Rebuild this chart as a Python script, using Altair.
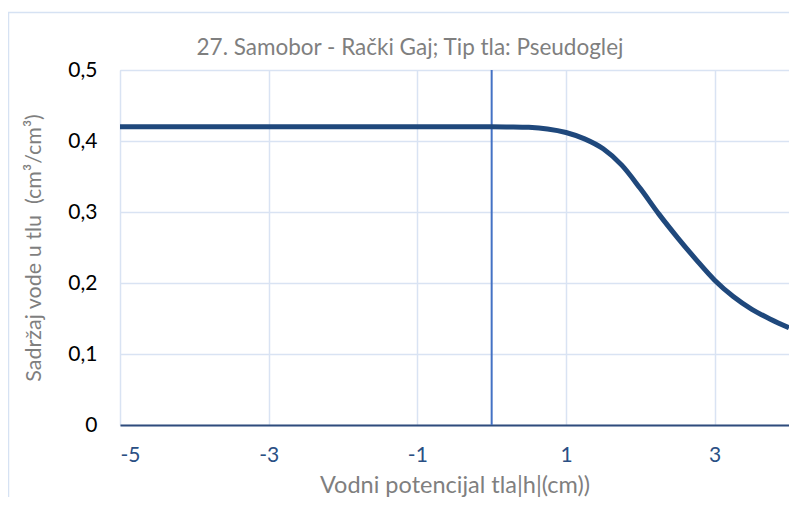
import altair as alt
import pandas as pd

# Data
x_vals = [-5, -4, -3, -2, -1, 0, 0.25, 0.5, 0.75, 1.0, 1.25, 1.5, 1.75, 2.0,
          2.25, 2.5, 2.75, 3.0, 3.25, 3.5, 3.75, 4.0]
theta_vals = [0.42, 0.42, 0.42, 0.42, 0.42, 0.42, 0.4198, 0.4192, 0.417, 0.412,
              0.403, 0.389, 0.366, 0.333, 0.297, 0.264, 0.233, 0.204, 0.181,
              0.163, 0.149, 0.137]
x_ticks = [-5, -3, -1, 1, 3]
y_ticks = [0, 0.1, 0.2, 0.3, 0.4, 0.5]
title_text = "27. Samobor - Rački Gaj; Tip tla: Pseudoglej"
x_title = "Vodni potencijal tla|h|(cm))"
y_title = "Sadržaj vode u tlu\u00a0 (cm³/cm³)"

FONT = "Lato"
GRID = "#D9E3F3"

df = pd.DataFrame({"x": x_vals, "theta": theta_vals})

xscale = alt.Scale(domain=[-5, 4], nice=False, zero=False)
yscale = alt.Scale(domain=[0, 0.5], nice=False)

line = alt.Chart(df).mark_line(
    color="#1F487C", strokeWidth=5, interpolate="monotone", clip=True
).encode(
    x=alt.X("x:Q", scale=xscale,
            axis=alt.Axis(values=x_ticks, title=x_title,
                          labelExpr="datum.value + ''",
                          labelColor="#2A4F84", labelFontSize=21, labelFont=FONT,
                          labelPadding=19, ticks=False,
                          domainColor="#2F4C7C", domainWidth=2,
                          gridColor=GRID, gridWidth=1.5,
                          titleFont=FONT, titleFontSize=23.5, titleFontWeight="normal",
                          titleColor="#7F7F7F", titlePadding=8)),
    y=alt.Y("theta:Q", scale=yscale,
            axis=alt.Axis(values=y_ticks, title=y_title,
                          labelExpr="replace(format(datum.value, '.1~f'), '.', ',')",
                          labelColor="#000000", labelFontSize=21, labelFont=FONT,
                          labelPadding=23, ticks=False, domain=False,
                          gridColor=GRID, gridWidth=1.5,
                          titleFont=FONT, titleFontSize=21.5, titleFontWeight="normal",
                          titleColor="#7F7F7F", titlePadding=22)),
)

vline = alt.Chart(pd.DataFrame({"x": [0]})).mark_rule(
    color="#4472C4", strokeWidth=2
).encode(x=alt.X("x:Q", scale=xscale), y=alt.value(0), y2=alt.value(355))

title = alt.Chart(pd.DataFrame({"t": [title_text]})).mark_text(
    font=FONT, fontSize=22.5, color="#7F7F7F", baseline="alphabetic", align="center"
).encode(text="t:N", x=alt.value(290), y=alt.value(-15))

border = alt.Chart(pd.DataFrame({"a": [1]})).mark_rect(
    fillOpacity=0, stroke="#D6E2F3", strokeWidth=1.5
).encode(x=alt.value(-111.5), x2=alt.value(700), y=alt.value(-57.5), y2=alt.value(460))

chart = alt.layer(border, vline, line, title).properties(
    width=669, height=355,
    autosize=alt.AutoSizeParams(type="none"),
    padding={"left": 112, "top": 62, "right": 0, "bottom": 72},
).configure_view(stroke=None).configure(background="white")

chart.save("out.html", embed_options={"renderer": "svg", "actions": False})
